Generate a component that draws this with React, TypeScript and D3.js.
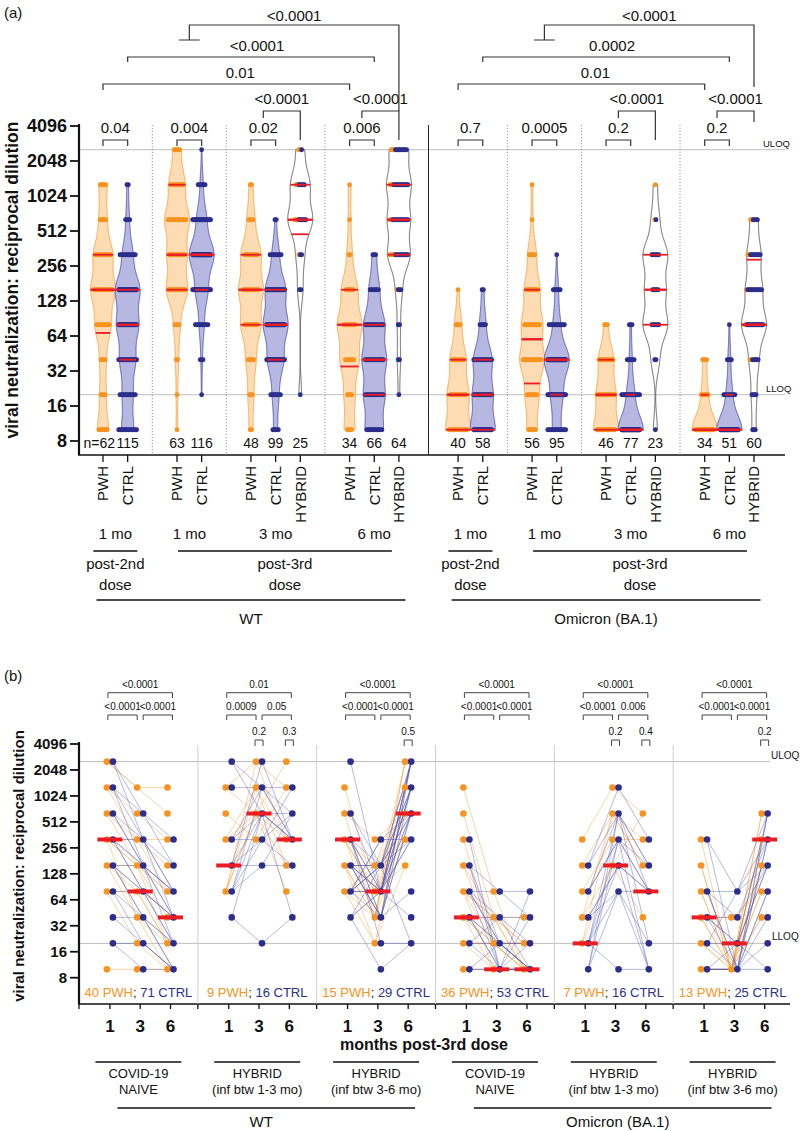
import React from 'react'
import * as d3 from 'd3'

const FONT = "'Liberation Sans', Arial, Helvetica, sans-serif"
const ORANGE = '#f7931e'
const ORANGE_FILL = '#fddbb3'
const ORANGE_EDGE = '#f8a444'
const BLUE = '#2b2e8c'
const BLUE_FILL = '#b6b8e2'
const BLUE_EDGE = '#4f53ad'
const RED = '#ec1c24'
const GRID = '#bdbdbd'

// titre levels (reciprocal dilution), 10 = below LLOQ
const levels = [10, 20, 40, 80, 160, 320, 640, 1280, 2560]
const yTicks = [8, 16, 32, 64, 128, 256, 512, 1024, 2048, 4096]
const uloq = 2560
const lloq = 20

// ---------- panel (a) ----------
const strainsA = ['WT', 'Omicron (BA.1)']
const groupCatsA = [['PWH', 'CTRL'], ['PWH', 'CTRL'], ['PWH', 'CTRL', 'HYBRID'], ['PWH', 'CTRL', 'HYBRID']]
const timesA = ['1 mo', '1 mo', '3 mo', '6 mo']
const violinN = [62, 115, 63, 116, 48, 99, 25, 34, 66, 64, 40, 58, 56, 95, 46, 77, 23, 34, 51, 60]
// number of participants at each level 10..2560
const violinCounts = [
  [7, 4, 4, 10, 15, 12, 5, 5, 0],
  [14, 12, 18, 25, 28, 12, 4, 2, 0],
  [1, 1, 2, 4, 13, 12, 15, 10, 5],
  [0, 1, 3, 10, 25, 50, 20, 6, 1],
  [2, 3, 5, 10, 12, 10, 4, 2, 0],
  [5, 8, 20, 30, 25, 9, 2, 0, 0],
  [0, 1, 0, 0, 2, 3, 9, 7, 3],
  [4, 4, 7, 9, 6, 2, 1, 1, 0],
  [12, 14, 16, 14, 7, 3, 0, 0, 0],
  [0, 1, 2, 2, 4, 14, 14, 15, 12],
  [14, 12, 9, 4, 1, 0, 0, 0, 0],
  [20, 16, 15, 5, 2, 0, 0, 0, 0],
  [6, 8, 14, 12, 9, 5, 1, 1, 0],
  [14, 20, 42, 12, 6, 1, 0, 0, 0],
  [18, 14, 11, 3, 0, 0, 0, 0, 0],
  [52, 16, 6, 3, 0, 0, 0, 0, 0],
  [1, 0, 2, 6, 5, 6, 2, 1, 0],
  [24, 6, 4, 0, 0, 0, 0, 0, 0],
  [37, 9, 4, 1, 0, 0, 0, 0, 0],
  [3, 4, 7, 18, 12, 10, 6, 0, 0],
]
// PWH share of the hybrid violins (orange dots)
const hybridPwhCounts = [
  [0, 0, 0, 0, 0, 1, 3, 2, 2],
  [0, 0, 0, 0, 1, 4, 2, 3, 3],
  [0, 0, 0, 0, 0, 0, 1, 1, 0],
  [0, 0, 2, 2, 1, 2, 2, 0, 0],
]
// [Q1, median, Q3]
const violinQuartiles = [
  [68, 160, 320], [40, 80, 160], [160, 320, 1280], [160, 320, 320], [80, 160, 320],
  [40, 80, 160], [480, 640, 1280], [35, 80, 160], [20, 40, 80], [320, 640, 1280],
  [10, 20, 40], [10, 20, 40], [25, 60, 160], [20, 40, 40], [10, 20, 40],
  [10, 10, 20], [80, 160, 320], [10, 10, 20], [10, 10, 20], [80, 80, 290],
]
const pairPA = ['0.04', '0.004', '0.02', '0.006', '0.7', '0.0005', '0.2', '0.2']
const hybridPA = ['<0.0001', '<0.0001', '<0.0001', '<0.0001']
const pwhLongPA = ['0.01', '0.01']
const ctrlLongPA = ['<0.0001', '0.0002']
const topPA = ['<0.0001', '<0.0001']

// ---------- panel (b) ----------
const strainsB = ['WT', 'Omicron (BA.1)']
const cohortsB = [['COVID-19', 'NAIVE'], ['HYBRID', '(inf btw 1-3 mo)'], ['HYBRID', '(inf btw 3-6 mo)']]
const monthsB = ['1', '3', '6']
const nPwhB = [40, 9, 15, 36, 7, 13]
const nCtrlB = [71, 16, 29, 53, 16, 25]
// each string = level index (0 = 10 ... 8 = 2560) at months 1, 3, 6
const pwhPathsB = [
  ['877', '876', '765', '754', '655', '643', '553', '542', '541', '443', '431', '420', '331', '310', '000', '521'],
  ['787', '768', '657', '574', '563', '385', '375', '364', '365'],
  ['738', '656', '547', '528', '535', '446', '427', '414', '345', '316', '534', '425', '336', '327', '628'],
  ['730', '620', '510', '410', '421', '300', '311', '320', '210', '200', '222', '211', '100', '110', '000', '321'],
  ['576', '465', '355', '246', '142', '264', '164'],
  ['506', '405', '404', '304', '223', '102', '002', '006', '305', '205', '103', '003', '204'],
]
const ctrlPathsB = [
  ['865', '854', '764', '753', '743', '653', '642', '643', '552', '541', '532', '531', '442', '431', '421', '420', '332', '321', '310', '220', '210', '100', '110', '543', '432'],
  ['877', '866', '776', '575', '565', '556', '457', '446', '465', '365', '354', '375', '262', '212', '485', '344'],
  ['838', '648', '637', '547', '536', '528', '526', '445', '437', '436', '428', '423', '355', '347', '346', '338', '332', '241', '235', '201', '511', '435', '537', '446', '327', '348', '356', '238', '426'],
  ['500', '410', '403', '320', '310', '332', '300', '221', '210', '200', '201', '122', '100', '110', '000', '002', '433', '311', '211', '010'],
  ['475', '464', '363', '354', '353', '243', '231', '240', '143', '150', '064', '053', '030', '133', '161', '100'],
  ['536', '506', '335', '305', '324', '214', '203', '102', '001', '000', '010', '134', '225', '216', '006', '305', '114', '003'],
]
const mediansB = [[320, 80, 40], [160, 640, 320], [320, 80, 640], [40, 10, 10], [20, 160, 80], [40, 20, 320]]
const topPB = ['<0.0001', '0.01', '<0.0001', '<0.0001', '<0.0001', '<0.0001']
const earlyPB = ['<0.0001', '0.0009', '<0.0001', '<0.0001', '<0.0001', '<0.0001']
const latePB = ['<0.0001', '0.05', '<0.0001', '<0.0001', '0.006', '<0.0001']
const pairPB = [[null, null, null], [null, '0.2', '0.3'], [null, null, '0.5'], [null, null, null], [null, '0.2', '0.4'], [null, null, '0.2']]

function buildLayoutA() {
  const violins: any[] = []
  const groups: any[] = []
  let slot = 0
  let k = 0
  let h = 0
  strainsA.forEach((strain, si) => {
    if (si > 0) slot += 0.4
    groupCatsA.forEach((cats, gi) => {
      const slots: number[] = []
      cats.forEach((cat) => {
        violins.push({
          k, cat, si, gi, slot,
          n: violinN[k], counts: violinCounts[k], q: violinQuartiles[k],
          pwh: cat === 'HYBRID' ? hybridPwhCounts[h++] : null,
        })
        slots.push(slot)
        slot += 1
        k += 1
      })
      groups.push({ si, gi, slots })
      slot += 1
    })
  })
  return { violins, groups }
}

const BW = 0.42
const MAXW = 12.5
const logs = levels.map((l) => Math.log2(l))

function violinShape(counts: number[]) {
  const dens = (t: number) => d3.sum(counts, (c, i) => c * Math.exp(-0.5 * ((t - logs[i]) / BW) ** 2))
  const lo = counts.findIndex((c) => c > 0)
  let hi = counts.length - 1
  while (counts[hi] === 0) hi--
  const ts = d3.range(logs[lo], logs[hi], 0.02).concat([logs[hi]])
  const maxD = d3.max(ts, dens) as number
  const hw = (t: number) => (dens(Math.max(logs[lo], Math.min(logs[hi], t))) / maxD) * MAXW
  return { ts, hw }
}

function Bracket({ d }: { d: string }) {
  return <path d={d} fill="none" stroke="#333" strokeWidth={1.2} />
}

export default function App() {
  const { violins, groups } = buildLayoutA()
  const maxSlot = d3.max(violins, (v: any) => v.slot) as number
  const xA = d3.scaleLinear().domain([0, maxSlot]).range([103, 754])
  const yA = d3.scaleLog().base(2).domain([8, 4096]).range([441, 126])

  const bandB = d3.scaleBand<number>().domain(d3.range(6)).range([79, 792])
  const monthFrac = d3.scalePoint<string>().domain(monthsB).range([0.26, 0.77])
  const cx = (g: number, m: string) => (bandB(g) as number) + (monthFrac(m) as number) * bandB.bandwidth()
  const yB = d3.scaleLog().base(2).domain([8, 4096]).range([977.7, 744])
  const line = d3.line<[number, number]>()

  const aEls: React.ReactNode[] = []
  const dots: React.ReactNode[] = []
  const reds: React.ReactNode[] = []
  violins.forEach((v: any) => {
    const x = xA(v.slot)
    const { ts, hw } = violinShape(v.counts)
    const area = d3.area<number>().y((t) => yA(2 ** t)).x0((t) => x - hw(t)).x1((t) => x + hw(t))
    const fill = v.cat === 'PWH' ? ORANGE_FILL : v.cat === 'CTRL' ? BLUE_FILL : '#fff'
    const edge = v.cat === 'PWH' ? ORANGE_EDGE : v.cat === 'CTRL' ? BLUE_EDGE : '#555'
    aEls.push(<path key={'v' + v.k} d={area(ts) as string} fill={fill} stroke={edge} strokeWidth={0.9} />)
    v.counts.forEach((c: number, i: number) => {
      if (!c) return
      const span = Math.min((c - 1) * 1.4, 18)
      for (let j = 0; j < c; j++) {
        const dx = c === 1 ? 0 : -span / 2 + (j * span) / (c - 1)
        const col = v.pwh ? (j < v.pwh[i] ? ORANGE : BLUE) : v.cat === 'PWH' ? ORANGE : BLUE
        dots.push(<circle key={`d${v.k}-${i}-${j}`} cx={x + dx} cy={yA(levels[i])} r={2.4} fill={col} />)
      }
    })
    v.q.forEach((q: number, qi: number) => {
      const w = hw(Math.log2(q))
      reds.push(
        <line key={`q${v.k}-${qi}`} x1={x - w} x2={x + w} y1={yA(q)} y2={yA(q)} stroke={RED} strokeWidth={qi === 1 ? 2.4 : 1.8} />
      )
    })
  })

  // panel a brackets
  const brackets: React.ReactNode[] = []
  const hybridRightEnd = [140, 140, 140, 122]
  const topRightEnd = [111, 87]
  let hIdx = 0
  groups.forEach((g: any, idx: number) => {
    const x0 = xA(g.slots[0])
    const x1 = xA(g.slots[1])
    brackets.push(<Bracket key={'pb' + idx} d={`M${x0},146V140H${x1}V146`} />)
    brackets.push(<text key={'pt' + idx} x={(x0 + x1) / 2} y={133} textAnchor="middle" fontSize={15}>{pairPA[idx]}</text>)
    if (g.slots.length === 3) {
      const mid = (x0 + x1) / 2
      const xh = xA(g.slots[2])
      brackets.push(<Bracket key={'hb' + idx} d={`M${mid},118V111H${xh}V${hybridRightEnd[hIdx]}`} />)
      brackets.push(<text key={'ht' + idx} x={(mid + xh) / 2} y={104} textAnchor="middle" fontSize={15}>{hybridPA[hIdx]}</text>)
      hIdx++
    }
  })
  strainsA.forEach((s, si) => {
    const gs = groups.filter((g: any) => g.si === si)
    const a0 = xA(gs[0].slots[0])
    const a1 = xA(gs[3].slots[0])
    brackets.push(<Bracket key={'lp' + si} d={`M${a0},90V84H${a1}V90`} />)
    brackets.push(<text key={'lpt' + si} x={(a0 + a1) / 2 + 14} y={78} textAnchor="middle" fontSize={15}>{pwhLongPA[si]}</text>)
    const b0 = xA(gs[0].slots[1])
    const b1 = xA(gs[3].slots[1])
    brackets.push(<Bracket key={'lc' + si} d={`M${b0},62V57H${b1}V62`} />)
    brackets.push(<text key={'lct' + si} x={(b0 + b1) / 2 + 6} y={51} textAnchor="middle" fontSize={15}>{ctrlLongPA[si]}</text>)
    const t0 = xA(gs[1].slots[0]) + 2
    const t1 = xA(gs[1].slots[1]) - 2
    const tc = (t0 + t1) / 2
    const tr = xA(gs[3].slots[2])
    brackets.push(<Bracket key={'tp' + si} d={`M${t0},40H${t1}M${tc},40V25H${tr}V${topRightEnd[si]}`} />)
    brackets.push(<text key={'tpt' + si} x={(tc + tr) / 2} y={21} textAnchor="middle" fontSize={15}>{topPA[si]}</text>)
  })

  // panel a labels below axis
  const below: React.ReactNode[] = []
  violins.forEach((v: any) => {
    const x = xA(v.slot)
    below.push(<line key={'ct' + v.k} x1={x} x2={x} y1={455} y2={462} stroke="#111" strokeWidth={1.3} />)
    below.push(
      <text key={'cl' + v.k} transform={`translate(${x},466) rotate(-90)`} textAnchor="end" dy="0.36em" fontSize={15}>{v.cat}</text>
    )
    below.push(
      <text key={'n' + v.k} x={v.k === 0 ? x + 12 : x} y={448} textAnchor={v.k === 0 ? 'end' : 'middle'} fontSize={14}>{v.k === 0 ? 'n=' + v.n : v.n}</text>
    )
  })
  groups.forEach((g: any, idx: number) => {
    const c = xA(d3.mean(g.slots) as number)
    below.push(<text key={'tm' + idx} x={c} y={539} textAnchor="middle" fontSize={15}>{timesA[g.gi]}</text>)
  })
  strainsA.forEach((s, si) => {
    const gs = groups.filter((g: any) => g.si === si)
    const c2 = xA(d3.mean(gs[0].slots) as number)
    below.push(<line key={'u2' + si} x1={c2 - 22} x2={c2 + 22} y1={551} y2={551} stroke="#111" strokeWidth={1.5} />)
    below.push(<text key={'p2a' + si} x={c2} y={569} textAnchor="middle" fontSize={15}>post-2nd</text>)
    below.push(<text key={'p2b' + si} x={c2} y={590} textAnchor="middle" fontSize={15}>dose</text>)
    const l0 = xA(gs[1].slots[0]) + 1
    const l1 = xA(gs[3].slots[2]) - 7
    below.push(<line key={'u3' + si} x1={l0} x2={l1} y1={551} y2={551} stroke="#111" strokeWidth={1.5} />)
    below.push(<text key={'p3a' + si} x={(l0 + l1) / 2} y={569} textAnchor="middle" fontSize={15}>post-3rd</text>)
    below.push(<text key={'p3b' + si} x={(l0 + l1) / 2} y={590} textAnchor="middle" fontSize={15}>dose</text>)
    const s0 = xA(gs[0].slots[0]) - 6.5
    const s1 = xA(gs[3].slots[2]) + 6.5
    below.push(<line key={'us' + si} x1={s0} x2={s1} y1={600} y2={600} stroke="#111" strokeWidth={1.5} />)
    below.push(<text key={'st' + si} x={(s0 + s1) / 2} y={624} textAnchor="middle" fontSize={15}>{s}</text>)
  })
  const sepsA: React.ReactNode[] = []
  for (let i = 0; i < groups.length - 1; i++) {
    const a = groups[i]
    const b = groups[i + 1]
    const xs = xA((a.slots[a.slots.length - 1] + b.slots[0]) / 2)
    const solid = a.si !== b.si
    sepsA.push(
      <line key={'sa' + i} x1={xs} x2={xs} y1={125} y2={455} stroke={solid ? '#222' : '#888'} strokeWidth={solid ? 1 : 0.9} strokeDasharray={solid ? undefined : '1.2,1.8'} />
    )
  }

  // ---------- panel b ----------
  const bLines: React.ReactNode[] = []
  const bDots: React.ReactNode[] = []
  const seen = new Set<string>()
  const dotList: { x: number; y: number; col: string; key: string }[] = []
  const addPaths = (paths: string[][], col: string, lineCol: string, off: number, op: number) => {
    paths.forEach((gp, g) => {
      gp.forEach((p, pi) => {
        const idx = p.split('').map(Number)
        const pts = idx.map((li, mi) => [cx(g, monthsB[mi]) + off, yB(levels[li])] as [number, number])
        bLines.push(<path key={`l${col}${g}-${pi}`} d={line(pts) as string} fill="none" stroke={lineCol} strokeOpacity={op} strokeWidth={0.9} />)
        pts.forEach((pt, mi) => {
          const key = `${col}${g}-${mi}-${idx[mi]}`
          if (!seen.has(key)) {
            seen.add(key)
            dotList.push({ x: pt[0], y: pt[1], col, key })
          }
        })
      })
    })
  }
  addPaths(pwhPathsB, ORANGE, '#f7a23c', -3, 0.5)
  addPaths(ctrlPathsB, BLUE, '#4a4eb0', 3, 0.45)
  dotList.forEach((d) => bDots.push(<circle key={d.key} cx={d.x} cy={d.y} r={3.3} fill={d.col} />))
  const bMed: React.ReactNode[] = []
  mediansB.forEach((ms, g) =>
    ms.forEach((m, mi) => {
      const c = cx(g, monthsB[mi])
      bMed.push(<line key={`m${g}-${mi}`} x1={c - 12.5} x2={c + 12.5} y1={yB(m)} y2={yB(m)} stroke={RED} strokeWidth={4} />)
    })
  )
  const bBr: React.ReactNode[] = []
  d3.range(6).forEach((g) => {
    const x1 = cx(g, '1')
    const x3 = cx(g, '3')
    const x6 = cx(g, '6')
    bBr.push(<path key={'bt' + g} d={`M${x1 - 2},698V692.7H${x6 + 2}V698`} fill="none" stroke="#444" strokeWidth={1} />)
    bBr.push(<text key={'btt' + g} x={(x1 + x6) / 2} y={688} textAnchor="middle" fontSize={10}>{topPB[g]}</text>)
    bBr.push(<path key={'be' + g} d={`M${x1 - 2},720V715H${x3 - 3}V720`} fill="none" stroke="#444" strokeWidth={1} />)
    bBr.push(<text key={'bet' + g} x={(x1 + x3 - 5) / 2} y={710} textAnchor="middle" fontSize={10}>{earlyPB[g]}</text>)
    bBr.push(<path key={'bl' + g} d={`M${x3 + 3},720V715H${x6 + 2}V720`} fill="none" stroke="#444" strokeWidth={1} />)
    bBr.push(<text key={'blt' + g} x={(x3 + x6 + 5) / 2} y={710} textAnchor="middle" fontSize={10}>{latePB[g]}</text>)
    pairPB[g].forEach((p, mi) => {
      if (!p) return
      const c = cx(g, monthsB[mi])
      bBr.push(<path key={`bp${g}-${mi}`} d={`M${c - 4},746V740H${c + 4}V746`} fill="none" stroke="#444" strokeWidth={1} />)
      bBr.push(<text key={`bpt${g}-${mi}`} x={c} y={735} textAnchor="middle" fontSize={10}>{p}</text>)
    })
  })
  const bBelow: React.ReactNode[] = []
  d3.range(6).forEach((g) => {
    const b0 = bandB(g) as number
    const c = b0 + bandB.bandwidth() / 2
    if (g > 0) bBelow.push(<line key={'bs' + g} x1={b0} x2={b0} y1={745} y2={1004} stroke="#cfcfcf" strokeWidth={1} />)
    bBelow.push(<line key={'bbt' + g} x1={b0} x2={b0} y1={1004} y2={1009} stroke="#111" strokeWidth={1.3} />)
    monthsB.forEach((m) => {
      const x = cx(g, m)
      bBelow.push(<line key={`bmt${g}${m}`} x1={x} x2={x} y1={1004} y2={1009} stroke="#111" strokeWidth={1.3} />)
      bBelow.push(<text key={`bml${g}${m}`} x={x} y={1032} textAnchor="middle" fontSize={17} fontWeight="bold">{m}</text>)
    })
    bBelow.push(
      <text key={'bn' + g} x={c} y={997} textAnchor="middle" fontSize={13}>
        <tspan fill={ORANGE}>{nPwhB[g]} PWH</tspan>
        <tspan fill="#222">; </tspan>
        <tspan fill={BLUE}>{nCtrlB[g]} CTRL</tspan>
      </text>
    )
    const coh = cohortsB[g % 3]
    bBelow.push(<line key={'bu' + g} x1={c - 43} x2={c + 43} y1={1062} y2={1062} stroke="#111" strokeWidth={1.5} />)
    bBelow.push(<text key={'bc1' + g} x={c} y={1078} textAnchor="middle" fontSize={13}>{coh[0]}</text>)
    bBelow.push(<text key={'bc2' + g} x={c} y={1094} textAnchor="middle" fontSize={13}>{coh[1]}</text>)
  })
  strainsB.forEach((s, si) => {
    const c0 = (bandB(si * 3) as number) + bandB.bandwidth() / 2
    const c2 = (bandB(si * 3 + 2) as number) + bandB.bandwidth() / 2
    bBelow.push(<line key={'bsl' + si} x1={c0 - 21} x2={c2 + 39} y1={1108} y2={1108} stroke="#111" strokeWidth={1.5} />)
    bBelow.push(<text key={'bst' + si} x={(c0 + c2) / 2 + 4} y={1127} textAnchor="middle" fontSize={15}>{s}</text>)
  })

  return (
    <svg width={800} height={1131} style={{ position: 'absolute', left: 0, top: 0, display: 'block', background: '#fff' }} fontFamily={FONT} fill="#111">
      {/* ---------- panel (a) ---------- */}
      <text x={4} y={18} fontSize={15}>(a)</text>
      <line x1={79} x2={785} y1={yA(uloq)} y2={yA(uloq)} stroke={GRID} strokeWidth={1} />
      <line x1={79} x2={785} y1={yA(lloq)} y2={yA(lloq)} stroke={GRID} strokeWidth={1} />
      <text x={763} y={yA(uloq) - 3} fontSize={9.5}>ULOQ</text>
      <text x={766} y={yA(lloq) - 3} fontSize={9.5}>LLOQ</text>
      {sepsA}
      {aEls}
      {dots}
      {reds}
      <line x1={79} x2={79} y1={124} y2={455} stroke="#111" strokeWidth={2.2} />
      <line x1={78} x2={785} y1={455} y2={455} stroke="#111" strokeWidth={1.5} />
      {yTicks.map((t) => (
        <g key={'ya' + t}>
          <line x1={70} x2={79} y1={yA(t)} y2={yA(t)} stroke="#111" strokeWidth={1.8} />
          <text x={67} y={yA(t)} dy="0.36em" textAnchor="end" fontSize={18} fontWeight="bold">{t}</text>
        </g>
      ))}
      <text transform="translate(18,280) rotate(-90)" textAnchor="middle" fontSize={17.5} fontWeight="bold">viral neutralization: reciprocal dilution</text>
      {brackets}
      {below}

      {/* ---------- panel (b) ---------- */}
      <text x={4} y={681} fontSize={15}>(b)</text>
      <line x1={79} x2={770} y1={yB(uloq)} y2={yB(uloq)} stroke={GRID} strokeWidth={1} />
      <line x1={79} x2={770} y1={yB(lloq)} y2={yB(lloq)} stroke={GRID} strokeWidth={1} />
      <text x={771} y={yB(uloq) - 3} fontSize={10}>ULOQ</text>
      <text x={772} y={yB(lloq) - 3} fontSize={10}>LLOQ</text>
      {bLines}
      {bDots}
      {bMed}
      <line x1={79} x2={79} y1={742} y2={1004} stroke="#111" strokeWidth={2.2} />
      <line x1={78} x2={790} y1={1004} y2={1004} stroke="#111" strokeWidth={1.5} />
      {yTicks.map((t) => (
        <g key={'yb' + t}>
          <line x1={70} x2={79} y1={yB(t)} y2={yB(t)} stroke="#111" strokeWidth={1.8} />
          <text x={67} y={yB(t)} dy="0.36em" textAnchor="end" fontSize={15} fontWeight="bold">{t}</text>
        </g>
      ))}
      <text transform="translate(24,866) rotate(-90)" textAnchor="middle" fontSize={15} fontWeight="bold">viral neutralization: reciprocal dilution</text>
      {bBr}
      {bBelow}
      <text x={424} y={1050} textAnchor="middle" fontSize={16} fontWeight="bold">months post-3rd dose</text>
    </svg>
  )
}
